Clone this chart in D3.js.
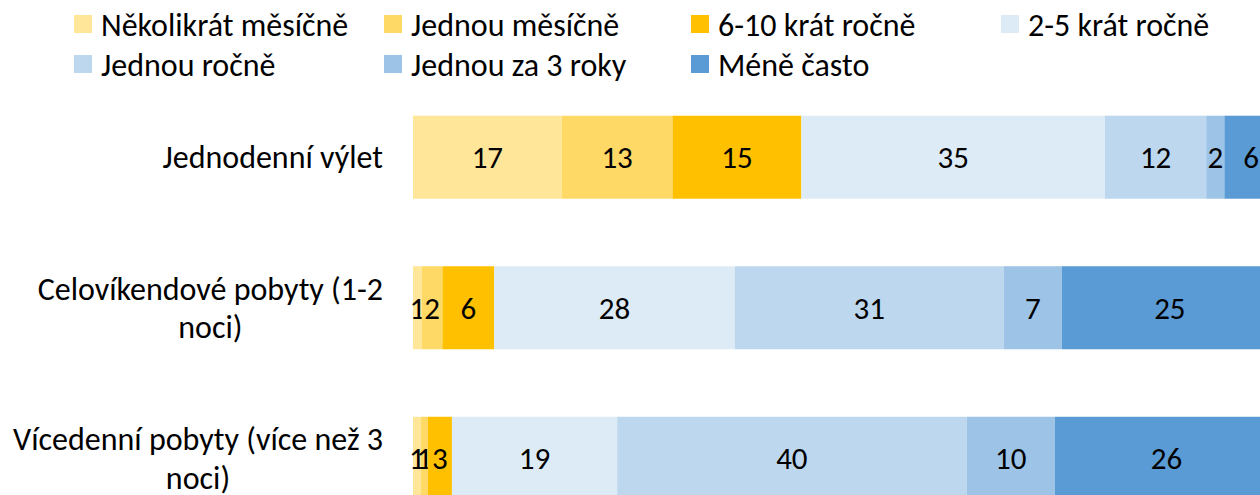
<!DOCTYPE html>
<html>
<head>
<meta charset="utf-8">
<script src="https://cdn.jsdelivr.net/npm/d3@7"></script>
<style>
  html, body { margin: 0; padding: 0; background: #fff; overflow: hidden; }
  svg { display: block; }
  text { font-family: Carlito, Calibri, Lato, "Open Sans", sans-serif; fill: #000; }
</style>
</head>
<body>
<svg id="chart" width="1260" height="495"></svg>
<script>
// ---- data ----
const categories = [
  "Jednodenní výlet",
  "Celovíkendové pobyty (1-2 noci)",
  "Vícedenní pobyty (více než 3 noci)"
];
const seriesNames = [
  "Několikrát měsíčně",
  "Jednou měsíčně",
  "6-10 krát ročně",
  "2-5 krát ročně",
  "Jednou ročně",
  "Jednou za 3 roky",
  "Méně často"
];
const seriesColors = ["#FFE699", "#FFD966", "#FFC000", "#DDEBF7", "#BDD7EE", "#9DC3E6", "#5B9BD5"];
// values per category (percent), in series order
const valuesJednodenni   = [17.2, 12.8, 14.9, 35.1, 11.7, 2.1, 6.2];
const valuesCelovikend   = [1.0, 2.4, 6.0, 27.8, 31.1, 6.7, 25.0];
const valuesVicedenni    = [0.9, 0.8, 2.8, 19.1, 40.4, 10.2, 25.8];
const xDomain = [0, 100];

// ---- layout ----
const svg = d3.select("#chart");
const FONT = 32;
const LABEL_FONT = 31;

const table = categories.map((c, i) => {
  const vals = [valuesJednodenni, valuesCelovikend, valuesVicedenni][i];
  const row = { category: c };
  seriesNames.forEach((s, j) => row[s] = vals[j]);
  return row;
});

const stack = d3.stack().keys(seriesNames);
const stacked = stack(table);

const x = d3.scaleLinear().domain(xDomain).range([413, 1278]);
const y = d3.scaleBand().domain(categories).range([82, 533.5])
  .paddingInner(0.4485).paddingOuter(0.224);
const color = d3.scaleOrdinal().domain(seriesNames).range(seriesColors);

// bars
const layers = svg.append("g").selectAll("g")
  .data(stacked).join("g")
  .attr("fill", d => color(d.key));

layers.selectAll("rect")
  .data(d => d.map(p => ({ p, key: d.key })))
  .join("rect")
  .attr("x", d => x(d.p[0]))
  .attr("y", d => y(d.p.data.category))
  .attr("width", d => x(d.p[1]) - x(d.p[0]))
  .attr("height", y.bandwidth());

// data labels
const fmt = d3.format(".0f");
layers.selectAll("text")
  .data(d => d.map(p => ({ p, key: d.key })))
  .join("text")
  .attr("x", d => (x(d.p[0]) + x(d.p[1])) / 2)
  .attr("y", d => y(d.p.data.category) + y.bandwidth() / 2)
  .attr("dy", "0.36em")
  .attr("text-anchor", "middle")
  .style("font-size", LABEL_FONT + "px")
  .text(d => fmt(d.p[1] - d.p[0]));

// category labels with wrapping (lines centered, block right-aligned)
const labelRight = 383;
const maxW = 390;
const lineH = 38.4;
const catG = svg.append("g");
categories.forEach(c => {
  const t = catG.append("text").style("font-size", FONT + "px").attr("x", 0).attr("y", 0);
  const words = c.split(" ");
  const lines = [];
  let cur = [];
  words.forEach(w => {
    const test = cur.concat([w]).join(" ");
    t.text(test);
    if (t.node().getComputedTextLength() > maxW && cur.length) {
      lines.push(cur.join(" "));
      cur = [w];
    } else {
      cur.push(w);
    }
  });
  lines.push(cur.join(" "));
  const widths = lines.map(l => { t.text(l); return t.node().getComputedTextLength(); });
  const blockW = d3.max(widths);
  const cx = labelRight - blockW / 2;
  t.text(null);
  const cy = y(c) + y.bandwidth() / 2;
  lines.forEach((l, i) => {
    t.append("tspan")
      .attr("x", cx)
      .attr("y", cy + (i - (lines.length - 1) / 2) * lineH)
      .attr("dy", "0.35em")
      .attr("text-anchor", "middle")
      .text(l);
  });
});

// legend
const legendCols = [74, 384, 691, 1001];
const legendRows = [15, 55];
const sw = 18;
const legend = svg.append("g");
seriesNames.forEach((s, i) => {
  const col = i % 4, row = Math.floor(i / 4);
  const g = legend.append("g")
    .attr("transform", `translate(${legendCols[col]},${legendRows[row]})`);
  g.append("rect").attr("width", sw).attr("height", sw).attr("fill", color(s));
  g.append("text")
    .attr("x", 27)
    .attr("y", sw / 2)
    .attr("dy", "0.36em")
    .style("font-size", FONT + "px")
    .text(s);
});
</script>
</body>
</html>
